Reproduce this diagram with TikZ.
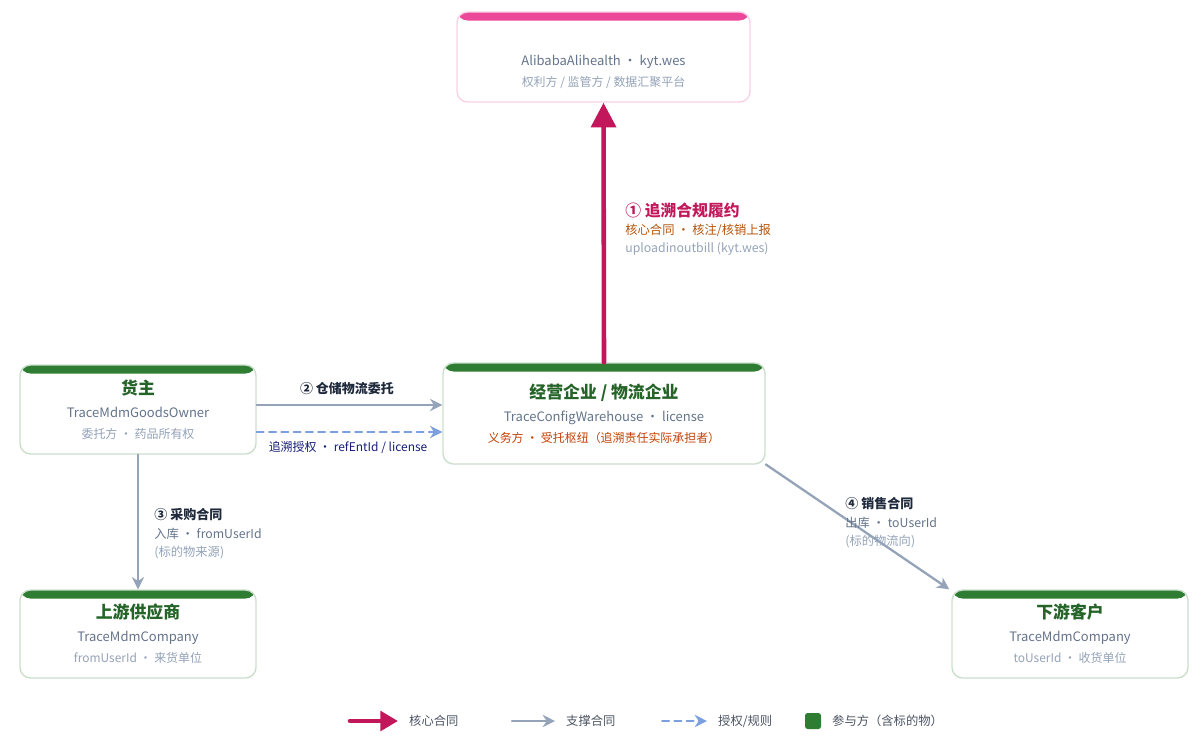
\documentclass[tikz,border=0pt]{standalone}
\usepackage{fontspec}
\setmainfont{Noto Sans CJK SC}
\usetikzlibrary{arrows.meta,positioning}
\definecolor{barG}{HTML}{2E7D32}
\definecolor{barP}{HTML}{EC4899}
\definecolor{titP}{HTML}{C2185B}
\definecolor{txtG}{HTML}{64748B}
\definecolor{txtL}{HTML}{94A3B8}
\definecolor{txtO}{HTML}{B45309}
\definecolor{lnk}{HTML}{94A3B8}
\definecolor{dsh}{HTML}{7C9FE0}
\definecolor{dark}{HTML}{1E293B}
\begin{document}
\begin{tikzpicture}
	[x=0.02cm,y=-0.02cm,line cap=round,
	%Styles
	party/.style={draw=#1!25,fill=white,rounded corners=6pt,line width=0.8pt,
		inner sep=0pt,align=center,
		path picture={\fill[#1] (path picture bounding box.north west) rectangle
			([yshift=-0.17cm]path picture bounding box.north east);}},
	title/.style={font=\fontsize{9.6}{12}\selectfont\bfseries},
	core/.style={-{Triangle[length=14pt,width=14pt]},titP,line width=2.6pt},
	support/.style={-{Stealth[length=7pt,width=7pt]},lnk,line width=1.3pt},
	auth/.style={-{Stealth[length=7pt,width=7pt]},dsh,line width=1.1pt,dash pattern=on 4pt off 3pt},
	lbl/.style={align=left,anchor=north west,font=\fontsize{7}{10.5}\selectfont,inner sep=0pt}
	]
	\useasboundingbox (0,0) rectangle (1202,748);
	
	%Parties
	\node[party=barP,minimum width=293*0.02cm,minimum height=90*0.02cm] (nmpa) at (603.5,57)
		{\\[-2pt]{\color{titP}\title{码上放心 / 国家药监}}\\[1pt]
		{\fontsize{7.4}{10}\selectfont\color{txtG}AlibabaAlihealth · kyt.wes}\\
		{\fontsize{6.8}{10}\selectfont\color{txtL}权利方 / 监管方 / 数据汇聚平台}};
	\node[party=barG,minimum width=322*0.02cm,minimum height=101*0.02cm] (wh) at (604,413.5)
		{{\color{barG!80!black}\fontsize{9.6}{12}\selectfont\bfseries 经营企业 / 物流企业}\\[1pt]
		{\fontsize{7.4}{10}\selectfont\color{txtG}TraceConfigWarehouse · license}\\
		{\fontsize{6.8}{10}\selectfont\color{txtO!80!red}义务方 · 受托枢纽（追溯责任实际承担者）}};
	\node[party=barG,minimum width=236*0.02cm,minimum height=89*0.02cm] (owner) at (138,409.5)
		{{\color{barG!80!black}\fontsize{9.6}{12}\selectfont\bfseries 货主}\\[1pt]
		{\fontsize{7.4}{10}\selectfont\color{txtG}TraceMdmGoodsOwner}\\
		{\fontsize{6.8}{10}\selectfont\color{txtL}委托方 · 药品所有权}};
	\node[party=barG,minimum width=236*0.02cm,minimum height=88*0.02cm] (up) at (138,634)
		{{\color{barG!80!black}\fontsize{9.6}{12}\selectfont\bfseries 上游供应商}\\[1pt]
		{\fontsize{7.4}{10}\selectfont\color{txtG}TraceMdmCompany}\\
		{\fontsize{6.8}{10}\selectfont\color{txtL}fromUserId · 来货单位}};
	\node[party=barG,minimum width=236*0.02cm,minimum height=88*0.02cm] (down) at (1070,634)
		{{\color{barG!80!black}\fontsize{9.6}{12}\selectfont\bfseries 下游客户}\\[1pt]
		{\fontsize{7.4}{10}\selectfont\color{txtG}TraceMdmCompany}\\
		{\fontsize{6.8}{10}\selectfont\color{txtL}toUserId · 收货单位}};
	
	%Contracts
	\draw[core] (wh.north) -- (nmpa.south);
	\node[lbl] (l1) at (625,202) {{\color{titP}\fontsize{9}{12}\selectfont\bfseries ① 追溯合规履约}\\
		{\color{txtO}核心合同 · 核注/核销上报}\\{\color{txtL}uploadinoutbill (kyt.wes)}};
	
	\draw[support] (owner.east |- 0,405) -- (wh.west |- 0,405);
	\node[font=\fontsize{7.4}{10}\selectfont\bfseries,text=dark] (l2) at (347,389) {② 仓储物流委托};
	\draw[auth] (owner.east |- 0,432) -- (wh.west |- 0,432);
	\node[font=\fontsize{6.8}{10}\selectfont,text=dark!70!blue] (l2b) at (348,448) {追溯授权 · refEntId / license};
	
	\draw[support] (owner.south) -- (up.north);
	\node[lbl] (l3) at (154,508) {{\color{dark}\fontsize{7.4}{11}\selectfont\bfseries ③ 采购合同}\\
		{\color{txtG}入库 · fromUserId}\\{\color{txtL}(标的物来源)}};
	
	\draw[support] (wh.south east) ++(0,-17*0.02) coordinate (c4) (c4) -- ([xshift=-0.04cm]down.north west);
	\node[lbl] (l4) at (845,497) {{\color{dark}\fontsize{7.4}{11}\selectfont\bfseries ④ 销售合同}\\
		{\color{txtG}出库 · toUserId}\\{\color{txtL}(标的物流向)}};
	
	%Legend
	\coordinate (k1) at (350,721); \coordinate (k2) at (398,721);
	\draw[core,-{Triangle[length=10pt,width=11pt]}] (k1) -- (k2);
	\node[anchor=west,font=\fontsize{7}{9}\selectfont,text=dark!80] (t1) at (403,721) {核心合同};
	\coordinate (k3) at (512,721); \coordinate (k4) at (555,721);
	\draw[support] (k3) -- (k4);
	\node[anchor=west,font=\fontsize{7}{9}\selectfont,text=dark!80] (t2) at (560,721) {支撑合同};
	\coordinate (k5) at (662,721); \coordinate (k6) at (707,721);
	\draw[auth] (k5) -- (k6);
	\node[anchor=west,font=\fontsize{7}{9}\selectfont,text=dark!80] (t3) at (712,721) {授权/规则};
	\fill[barG,rounded corners=1.5pt] (805,713) rectangle (821,729);
	\node[anchor=west,font=\fontsize{7}{9}\selectfont,text=dark!80] (t4) at (826,721) {参与方（含标的物）};
\end{tikzpicture}
\end{document}
